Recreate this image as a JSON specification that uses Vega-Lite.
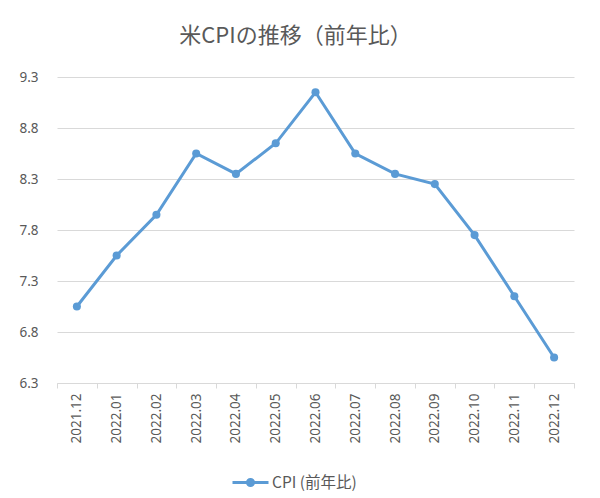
{
  "$schema": "https://vega.github.io/schema/vega-lite/v6.json",
  "autosize": {"type": "none"},
  "width": 517,
  "height": 306,
  "padding": {"left": 57, "top": 77, "right": 26, "bottom": 115},
  "background": "white",
  "title": {
    "text": "米CPIの推移（前年比）",
    "font": "Noto Sans CJK JP",
    "fontSize": 22,
    "fontWeight": "normal",
    "color": "#595959",
    "anchor": "middle",
    "dx": -20,
    "offset": 22
  },
  "data": {
    "values": [
      {"month": "2021.12", "cpi": 7.0, "series": "CPI (前年比)"},
      {"month": "2022.01", "cpi": 7.5, "series": "CPI (前年比)"},
      {"month": "2022.02", "cpi": 7.9, "series": "CPI (前年比)"},
      {"month": "2022.03", "cpi": 8.5, "series": "CPI (前年比)"},
      {"month": "2022.04", "cpi": 8.3, "series": "CPI (前年比)"},
      {"month": "2022.05", "cpi": 8.6, "series": "CPI (前年比)"},
      {"month": "2022.06", "cpi": 9.1, "series": "CPI (前年比)"},
      {"month": "2022.07", "cpi": 8.5, "series": "CPI (前年比)"},
      {"month": "2022.08", "cpi": 8.3, "series": "CPI (前年比)"},
      {"month": "2022.09", "cpi": 8.2, "series": "CPI (前年比)"},
      {"month": "2022.10", "cpi": 7.7, "series": "CPI (前年比)"},
      {"month": "2022.11", "cpi": 7.1, "series": "CPI (前年比)"},
      {"month": "2022.12", "cpi": 6.5, "series": "CPI (前年比)"}
    ]
  },
  "config": {
    "view": {"stroke": null},
    "font": "Noto Sans CJK JP"
  },
  "mark": {
    "type": "line",
    "strokeWidth": 3,
    "point": {"filled": true, "size": 65}
  },
  "encoding": {
    "x": {
      "field": "month",
      "type": "ordinal",
      "bandPosition": 0.5,
      "scale": {"type": "band", "paddingInner": 0, "paddingOuter": 0},
      "axis": {
        "title": null,
        "labelAngle": -90,
        "labelFontSize": 13.5,
        "labelColor": "#595959",
        "labelFont": "Noto Sans",
        "domainColor": "#D9D9D9",
        "tickColor": "#D9D9D9",
        "tickSize": 5,
        "tickBand": "extent",
        "labelPadding": 5,
        "grid": false
      }
    },
    "y": {
      "field": "cpi",
      "type": "quantitative",
      "scale": {"domain": [6.25, 9.25], "nice": false, "zero": false},
      "axis": {
        "title": null,
        "values": [6.25, 6.75, 7.25, 7.75, 8.25, 8.75, 9.25],
        "format": ".1f",
        "labelFontSize": 13.5,
        "labelColor": "#595959",
        "labelFont": "Noto Sans",
        "domain": false,
        "ticks": false,
        "labelPadding": 19,
        "gridColor": "#D9D9D9",
        "gridWidth": 1
      }
    },
    "color": {
      "field": "series",
      "type": "nominal",
      "scale": {"range": ["#5B9BD5"]},
      "legend": {
        "title": null,
        "orient": "none",
        "legendX": 174,
        "legendY": 386,
        "symbolType": "M-1,0H1M0.17,0A0.17,0.17 0 1,1 -0.17,0A0.17,0.17 0 1,1 0.17,0",
        "symbolSize": 1296,
        "symbolStrokeWidth": 3,
        "symbolFillColor": "#5B9BD5",
        "symbolStrokeColor": "#5B9BD5",
        "labelFontSize": 15.5,
        "labelColor": "#595959",
        "labelOffset": 2
      }
    }
  }
}
